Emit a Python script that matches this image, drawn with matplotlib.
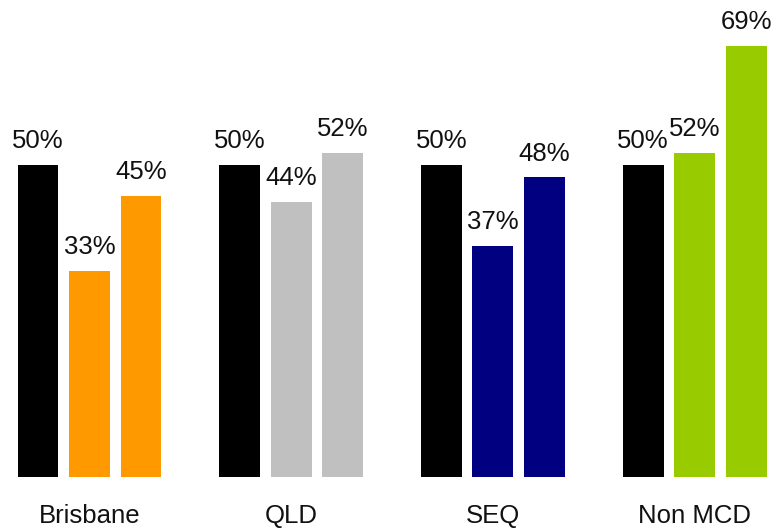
import matplotlib
matplotlib.use("Agg")
import matplotlib.pyplot as plt
import numpy as np

plt.rcParams["font.family"] = ["Liberation Sans", "DejaVu Sans"]

categories = ["Brisbane", "QLD", "SEQ", "Non MCD"]
series_a = [50, 50, 50, 50]
series_b = [33, 44, 37, 52]
series_c = [45, 52, 48, 69]
group_colors = ["#FF9900", "#C0C0C0", "#000080", "#99CC00"]

W, H = 773, 532
fig = plt.figure(figsize=(W / 100, H / 100), dpi=100)
base_px = 55
ax = fig.add_axes([0, base_px / H, 1, 1 - base_px / H])
ax.axis("off")

x = np.arange(len(categories))
off = 0.2553
bw = 0.203
ax.set_xlim(-89.5 / 201.7, (W - 89.5) / 201.7)
ax.set_ylim(0, (H - base_px) / 6.24)

for i, cat in enumerate(categories):
    vals = [series_a[i], series_b[i], series_c[i]]
    cols = ["black", group_colors[i], group_colors[i]]
    for k, (v, c) in enumerate(zip(vals, cols)):
        xp = x[i] + (k - 1) * off
        ax.bar(xp, v, width=bw, color=c)
        ax.annotate(f"{v}%", (xp, v), xytext=(0, 12.2), textcoords="offset points",
                    ha="center", va="baseline", fontsize=18.5, color="#111111")
    ax.annotate(cat, (x[i], 0), xytext=(0, -33), textcoords="offset points",
                ha="center", va="baseline", fontsize=18.5, color="#111111",
                annotation_clip=False)

fig.savefig("out.png", dpi=100)
